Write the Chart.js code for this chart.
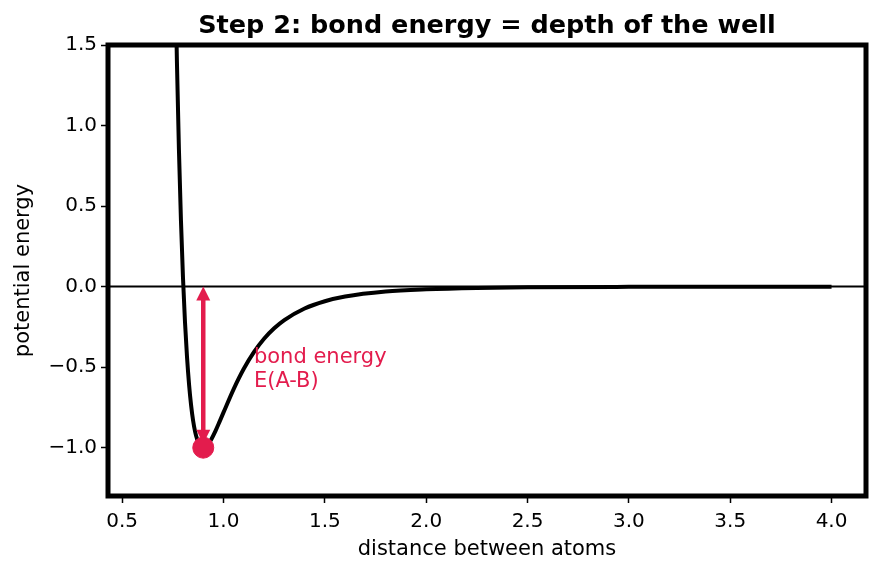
<!DOCTYPE html>
<html lang="en">
<head>
  <meta charset="UTF-8">
  <title>Bond energy</title>
  <script src="https://cdn.jsdelivr.net/npm/chart.js"></script>
  <style>
    body { margin: 0; background: #fff; }
    canvas { display: block; }
  </style>
</head>
<body>
  <canvas id="wellChart" width="880" height="573"></canvas>

  <script>
    // potential curve
    const distance = [0.76, 0.77, 0.78, 0.79, 0.80, 0.81, 0.82, 0.83, 0.84, 0.85, 0.86, 0.87, 0.88, 0.89, 0.90,
      0.92, 0.94, 0.96, 0.98, 1.00, 1.05, 1.10, 1.15, 1.20, 1.25, 1.30, 1.40, 1.50, 1.60, 1.80, 2.00, 2.25, 2.50, 3.00, 3.50, 4.00];
    const energy = [2.09, 1.40, 0.85, 0.41, 0.055, -0.223, -0.440, -0.609, -0.737, -0.833, -0.902, -0.949, -0.979, -0.995, -1.000,
      -0.985, -0.947, -0.897, -0.840, -0.781, -0.636, -0.510, -0.407, -0.324, -0.259, -0.208, -0.136, -0.091, -0.062, -0.031, -0.017, -0.008, -0.004, -0.0015, -0.0006, -0.0003];

    // the bottom of the well
    const minDistance = 0.9;
    const minEnergy = -1.0;

    const xTicks = [0.5, 1.0, 1.5, 2.0, 2.5, 3.0, 3.5, 4.0];
    const yTicks = [-1.0, -0.5, 0.0, 0.5, 1.0, 1.5];

    const labelLines = ['bond energy', 'E(A-B)'];
    const labelAt = { x: 1.15, y: -0.5 };

    const RED = '#e31c4d';
    Chart.defaults.font.family = "'DejaVu Sans', sans-serif";
    Chart.defaults.color = '#000';

    const fmt = v => v.toFixed(1).replace('-', '\u2212');

    // frame, zero line, arrow, title and note
    const decorations = {
      id: 'decorations',
      beforeDatasetsDraw(chart) {
        const { ctx, chartArea: a, scales: { y } } = chart;
        const y0 = y.getPixelForValue(0);
        ctx.save();
        ctx.strokeStyle = '#000';
        ctx.lineWidth = 2;
        ctx.beginPath();
        ctx.moveTo(a.left, y0);
        ctx.lineTo(a.right, y0);
        ctx.stroke();
        ctx.restore();
      },
      afterDatasetDraw(chart, args) {
        if (args.index !== 1) return;
        const { ctx, scales: { x, y } } = chart;
        const px = x.getPixelForValue(minDistance);
        const top = y.getPixelForValue(0);
        const bottom = y.getPixelForValue(minEnergy) - 4;
        const head = 14, half = 7;
        ctx.save();
        ctx.strokeStyle = RED;
        ctx.fillStyle = RED;
        ctx.lineWidth = 4.5;
        ctx.beginPath();
        ctx.moveTo(px, top + head - 2);
        ctx.lineTo(px, bottom - head + 2);
        ctx.stroke();
        ctx.beginPath();
        ctx.moveTo(px, top);
        ctx.lineTo(px - half, top + head);
        ctx.lineTo(px + half, top + head);
        ctx.closePath();
        ctx.fill();
        ctx.beginPath();
        ctx.moveTo(px, bottom);
        ctx.lineTo(px - half, bottom - head);
        ctx.lineTo(px + half, bottom - head);
        ctx.closePath();
        ctx.fill();
        ctx.restore();
      },
      afterDraw(chart) {
        const { ctx, chartArea: a, scales: { x, y } } = chart;
        ctx.save();
        ctx.strokeStyle = '#000';
        ctx.lineWidth = 5;
        ctx.strokeRect(a.left, a.top, a.right - a.left, a.bottom - a.top);

        ctx.fillStyle = '#000';
        ctx.font = "bold 25.5px 'DejaVu Sans', sans-serif";
        ctx.textAlign = 'center';
        ctx.textBaseline = 'alphabetic';
        ctx.fillText('Step 2: bond energy = depth of the well', (a.left + a.right) / 2, 33);

        ctx.fillStyle = RED;
        ctx.font = "21px 'DejaVu Sans', sans-serif";
        ctx.textAlign = 'left';
        const lx = x.getPixelForValue(labelAt.x);
        const ly = y.getPixelForValue(labelAt.y);
        ctx.fillText(labelLines[0], lx, ly - 4);
        ctx.fillText(labelLines[1], lx, ly + 20);
        ctx.restore();
      }
    };

    const tickGrid = { drawOnChartArea: false, drawTicks: true, tickLength: 7, tickWidth: 1.5, tickColor: '#000' };

    new Chart(document.getElementById('wellChart'), {
      type: 'scatter',
      data: {
        datasets: [
          {
            label: 'minimum',
            data: [{ x: minDistance, y: minEnergy }],
            backgroundColor: RED,
            borderColor: RED,
            pointRadius: 10.5,
            pointHoverRadius: 10.5
          },
          {
            label: 'potential',
            type: 'line',
            data: distance.map((d, i) => ({ x: d, y: energy[i] })),
            borderColor: '#000',
            borderWidth: 4,
            pointRadius: 0,
            cubicInterpolationMode: 'monotone',
            fill: false,
            clip: 0
          }
        ]
      },
      options: {
        responsive: false,
        animation: false,
        events: [],
        layout: { padding: { top: 45, right: 14, left: 0, bottom: 0 } },
        plugins: { legend: { display: false }, tooltip: { enabled: false } },
        scales: {
          x: {
            type: 'linear',
            min: 0.43,
            max: 4.17,
            afterFit: s => { s.height = 77; },
            afterBuildTicks: s => { s.ticks = xTicks.map(v => ({ value: v })); },
            ticks: { font: { size: 20 }, padding: 7, maxRotation: 0, callback: v => fmt(v) },
            grid: tickGrid,
            border: { display: false },
            title: { display: true, text: 'distance between atoms', font: { size: 21 }, padding: { top: 0, bottom: 11 } }
          },
          y: {
            type: 'linear',
            min: -1.3,
            max: 1.5,
            afterFit: s => { s.width = 108; },
            afterBuildTicks: s => { s.ticks = yTicks.map(v => ({ value: v })); },
            ticks: { font: { size: 20 }, padding: 4, callback: v => fmt(v) },
            grid: tickGrid,
            border: { display: false },
            title: { display: true, text: 'potential energy', font: { size: 21 }, padding: { top: 11, bottom: 0 } }
          }
        }
      },
      plugins: [decorations]
    });
  </script>
</body>
</html>
